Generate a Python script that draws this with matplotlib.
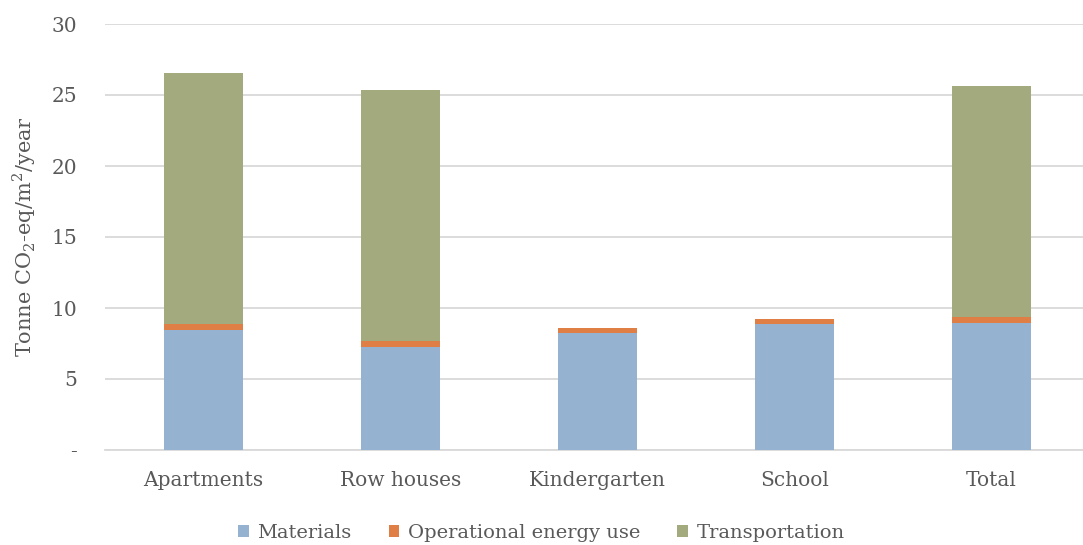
import matplotlib
matplotlib.use("Agg")
import matplotlib.pyplot as plt
import numpy as np

categories = ["Apartments", "Row houses", "Kindergarten", "School", "Total"]
materials = [8.45, 7.23, 8.26, 8.87, 8.94]
operational = [0.40, 0.42, 0.31, 0.33, 0.41]
transportation = [17.70, 17.70, 0.0, 0.0, 16.28]
yticks = [0, 5, 10, 15, 20, 25, 30]
yticklabels = ["-", "5", "10", "15", "20", "25", "30"]

colors = ["#95b3d0", "#e07f45", "#a3aa7e"]
txt = "#595959"

plt.rcParams['font.family'] = ['DejaVu Serif']
plt.rcParams['mathtext.fontset'] = 'custom'
plt.rcParams['mathtext.rm'] = 'DejaVu Serif'

fig = plt.figure(figsize=(10.83, 5.45), dpi=100)
ax = fig.add_axes([105/1083, 1-450/545, 985/1083, 426/545])

x = np.arange(len(categories))
w = 0.4
b1 = ax.bar(x, materials, w, color=colors[0], label="Materials", zorder=3)
bot2 = np.array(materials)
b2 = ax.bar(x, operational, w, bottom=bot2, color=colors[1], label="Operational energy use", zorder=3)
bot3 = bot2 + np.array(operational)
b3 = ax.bar(x, transportation, w, bottom=bot3, color=colors[2], label="Transportation", zorder=3)

ax.set_xlim(-0.5, len(categories) - 0.5)
ax.set_ylim(0, 30)
ax.set_yticks(yticks)
ax.set_yticklabels(yticklabels)
ax.set_xticks(x)
ax.set_xticklabels(categories)
ax.tick_params(axis='both', length=0, labelsize=14.5, colors=txt)
ax.tick_params(axis='x', pad=15)
ax.tick_params(axis='y', pad=20)
ax.yaxis.grid(True, color="#d9d9d9", linewidth=1.3, zorder=0)
for s in ["top", "right", "left"]:
    ax.spines[s].set_visible(False)
ax.spines["bottom"].set_color("#d9d9d9")
ax.spines["bottom"].set_linewidth(1.3)

ax.set_ylabel(r"Tonne CO$_\mathregular{2}$-eq/m$^\mathregular{2}$/year", fontsize=15, color=txt, labelpad=10)

leg = fig.legend(handles=[b1, b2, b3], loc="lower center", ncol=3, frameon=False,
                 bbox_to_anchor=(0.5, -0.027), fontsize=14, handlelength=0.55,
                 handleheight=0.55, handletextpad=0.45, columnspacing=1.9)
for t in leg.get_texts():
    t.set_color(txt)

fig.savefig("out.png", dpi=100)
